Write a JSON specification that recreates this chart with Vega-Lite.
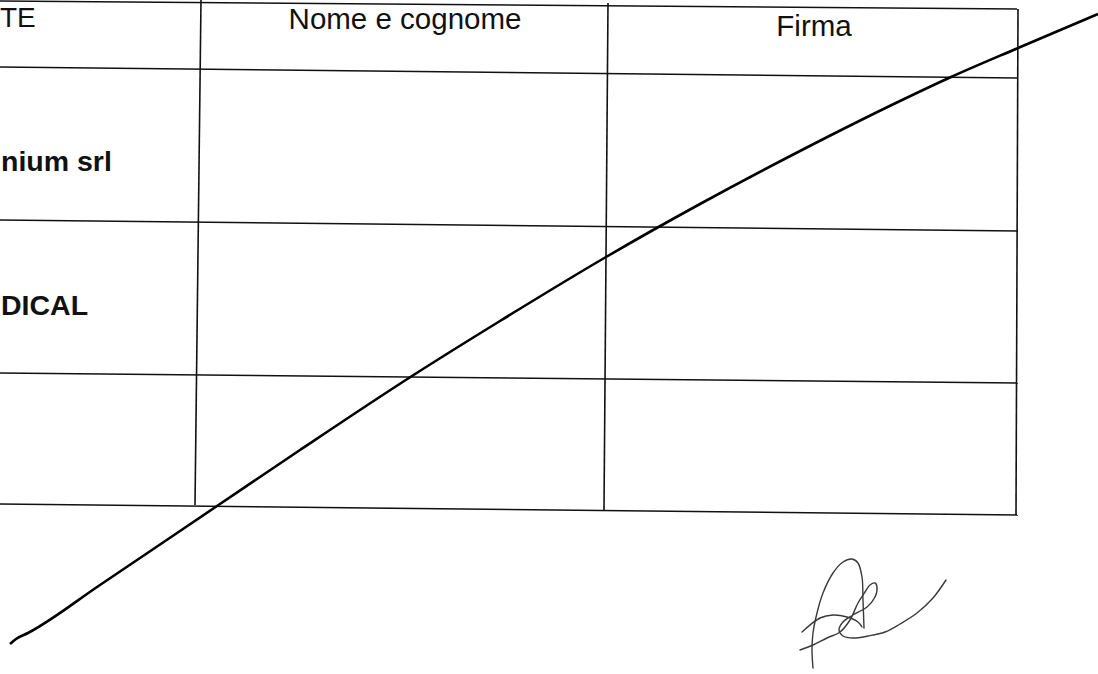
{
  "$schema": "https://vega.github.io/schema/vega-lite/v6.json",
  "width": 1098,
  "height": 674,
  "padding": 0,
  "autosize": {"type": "none"},
  "background": "white",
  "config": {"view": {"stroke": null}},
  "datasets": {
    "grid": [
      {"x": 0, "y": 1, "x2": 1018, "y2": 9},
      {"x": 0, "y": 67, "x2": 1018, "y2": 78},
      {"x": 0, "y": 220, "x2": 1018, "y2": 231},
      {"x": 0, "y": 373, "x2": 1018, "y2": 383},
      {"x": 0, "y": 504, "x2": 1018, "y2": 515},
      {"x": 201, "y": 0, "x2": 195, "y2": 505},
      {"x": 608, "y": 3, "x2": 604, "y2": 510},
      {"x": 1018, "y": 9, "x2": 1016, "y2": 515}
    ],
    "labels": [
      {"text": "TE", "x": 0, "y": 27, "kind": "head", "pos": "left"},
      {"text": "Nome e cognome", "x": 405, "y": 29, "kind": "head", "pos": "center"},
      {"text": "Firma", "x": 814, "y": 36, "kind": "head", "pos": "center"},
      {"text": "nium srl", "x": 1, "y": 171, "kind": "name", "pos": "left"},
      {"text": "DICAL", "x": 1, "y": 315, "kind": "name", "pos": "left"}
    ],
    "curve": [
      {"i": 0, "x": 10, "y": 644},
      {"i": 1, "x": 16, "y": 639},
      {"i": 2, "x": 28, "y": 633},
      {"i": 3, "x": 100, "y": 585},
      {"i": 4, "x": 217, "y": 506},
      {"i": 5, "x": 300, "y": 450},
      {"i": 6, "x": 412, "y": 376},
      {"i": 7, "x": 500, "y": 321},
      {"i": 8, "x": 606, "y": 257},
      {"i": 9, "x": 700, "y": 204},
      {"i": 10, "x": 800, "y": 151},
      {"i": 11, "x": 900, "y": 101},
      {"i": 12, "x": 951, "y": 77},
      {"i": 13, "x": 1018, "y": 48},
      {"i": 14, "x": 1098, "y": 14}
    ],
    "signature": [
      {"s": "A", "i": 0, "x": 813, "y": 668},
      {"s": "A", "i": 1, "x": 812, "y": 650},
      {"s": "A", "i": 2, "x": 813, "y": 633},
      {"s": "A", "i": 3, "x": 817, "y": 613},
      {"s": "A", "i": 4, "x": 823, "y": 593},
      {"s": "A", "i": 5, "x": 833, "y": 573},
      {"s": "A", "i": 6, "x": 843, "y": 562},
      {"s": "A", "i": 7, "x": 852, "y": 559},
      {"s": "A", "i": 8, "x": 858, "y": 563},
      {"s": "A", "i": 9, "x": 862, "y": 577},
      {"s": "A", "i": 10, "x": 863, "y": 600},
      {"s": "A", "i": 11, "x": 864, "y": 628},
      {"s": "B", "i": 0, "x": 802, "y": 632},
      {"s": "B", "i": 1, "x": 820, "y": 618},
      {"s": "B", "i": 2, "x": 833, "y": 615},
      {"s": "B", "i": 3, "x": 847, "y": 617},
      {"s": "B", "i": 4, "x": 858, "y": 622},
      {"s": "B", "i": 5, "x": 862, "y": 627},
      {"s": "C", "i": 0, "x": 800, "y": 650},
      {"s": "C", "i": 1, "x": 813, "y": 645},
      {"s": "C", "i": 2, "x": 827, "y": 638},
      {"s": "C", "i": 3, "x": 840, "y": 632},
      {"s": "C", "i": 4, "x": 850, "y": 620},
      {"s": "C", "i": 5, "x": 858, "y": 603},
      {"s": "C", "i": 6, "x": 865, "y": 592},
      {"s": "C", "i": 7, "x": 870, "y": 585},
      {"s": "C", "i": 8, "x": 875, "y": 583},
      {"s": "C", "i": 9, "x": 877, "y": 587},
      {"s": "C", "i": 10, "x": 875, "y": 597},
      {"s": "C", "i": 11, "x": 867, "y": 607},
      {"s": "C", "i": 12, "x": 853, "y": 615},
      {"s": "C", "i": 13, "x": 843, "y": 622},
      {"s": "C", "i": 14, "x": 839, "y": 630},
      {"s": "C", "i": 15, "x": 843, "y": 636},
      {"s": "C", "i": 16, "x": 853, "y": 638},
      {"s": "C", "i": 17, "x": 868, "y": 636},
      {"s": "C", "i": 18, "x": 885, "y": 632},
      {"s": "C", "i": 19, "x": 900, "y": 624},
      {"s": "C", "i": 20, "x": 917, "y": 613},
      {"s": "C", "i": 21, "x": 933, "y": 598},
      {"s": "C", "i": 22, "x": 946, "y": 580}
    ]
  },
  "layer": [
    {
      "data": {"name": "grid"},
      "mark": {"type": "rule", "color": "#111111", "strokeWidth": 1.6},
      "encoding": {
        "x": {"field": "x", "type": "quantitative", "scale": {"domain": [0, 1098], "nice": false, "zero": false}, "axis": null},
        "y": {"field": "y", "type": "quantitative", "scale": {"domain": [0, 674], "nice": false, "zero": false, "reverse": true}, "axis": null},
        "x2": {"field": "x2"},
        "y2": {"field": "y2"}
      }
    },
    {
      "data": {"name": "labels"},
      "transform": [{"filter": "datum.kind === 'head' && datum.pos === 'left'"}],
      "mark": {"type": "text", "font": "Liberation Sans", "fontSize": 28, "fontWeight": "normal", "align": "left", "baseline": "alphabetic", "color": "#111111"},
      "encoding": {
        "x": {"field": "x", "type": "quantitative", "scale": {"domain": [0, 1098], "nice": false, "zero": false}, "axis": null},
        "y": {"field": "y", "type": "quantitative", "scale": {"domain": [0, 674], "nice": false, "zero": false, "reverse": true}, "axis": null},
        "text": {"field": "text"}
      }
    },
    {
      "data": {"name": "labels"},
      "transform": [{"filter": "datum.kind === 'head' && datum.pos === 'center'"}],
      "mark": {"type": "text", "font": "Liberation Sans", "fontSize": 29.5, "fontWeight": "normal", "align": "center", "baseline": "alphabetic", "color": "#111111"},
      "encoding": {
        "x": {"field": "x", "type": "quantitative", "scale": {"domain": [0, 1098], "nice": false, "zero": false}, "axis": null},
        "y": {"field": "y", "type": "quantitative", "scale": {"domain": [0, 674], "nice": false, "zero": false, "reverse": true}, "axis": null},
        "text": {"field": "text"}
      }
    },
    {
      "data": {"name": "labels"},
      "transform": [{"filter": "datum.kind === 'name'"}],
      "mark": {"type": "text", "font": "Liberation Sans", "fontSize": 28.5, "fontWeight": "bold", "align": "left", "baseline": "alphabetic", "color": "#111111"},
      "encoding": {
        "x": {"field": "x", "type": "quantitative", "scale": {"domain": [0, 1098], "nice": false, "zero": false}, "axis": null},
        "y": {"field": "y", "type": "quantitative", "scale": {"domain": [0, 674], "nice": false, "zero": false, "reverse": true}, "axis": null},
        "text": {"field": "text"}
      }
    },
    {
      "data": {"name": "curve"},
      "mark": {"type": "line", "color": "#000000", "strokeWidth": 2.6, "interpolate": "monotone"},
      "encoding": {
        "x": {"field": "x", "type": "quantitative", "scale": {"domain": [0, 1098], "nice": false, "zero": false}, "axis": null},
        "y": {"field": "y", "type": "quantitative", "scale": {"domain": [0, 674], "nice": false, "zero": false, "reverse": true}, "axis": null},
        "order": {"field": "i", "type": "quantitative"}
      }
    },
    {
      "data": {"name": "signature"},
      "mark": {"type": "line", "color": "#3a3a3a", "strokeWidth": 1.4, "interpolate": "catmull-rom", "strokeCap": "round"},
      "encoding": {
        "x": {"field": "x", "type": "quantitative", "scale": {"domain": [0, 1098], "nice": false, "zero": false}, "axis": null},
        "y": {"field": "y", "type": "quantitative", "scale": {"domain": [0, 674], "nice": false, "zero": false, "reverse": true}, "axis": null},
        "detail": {"field": "s", "type": "nominal"},
        "order": {"field": "i", "type": "quantitative"}
      }
    }
  ]
}
